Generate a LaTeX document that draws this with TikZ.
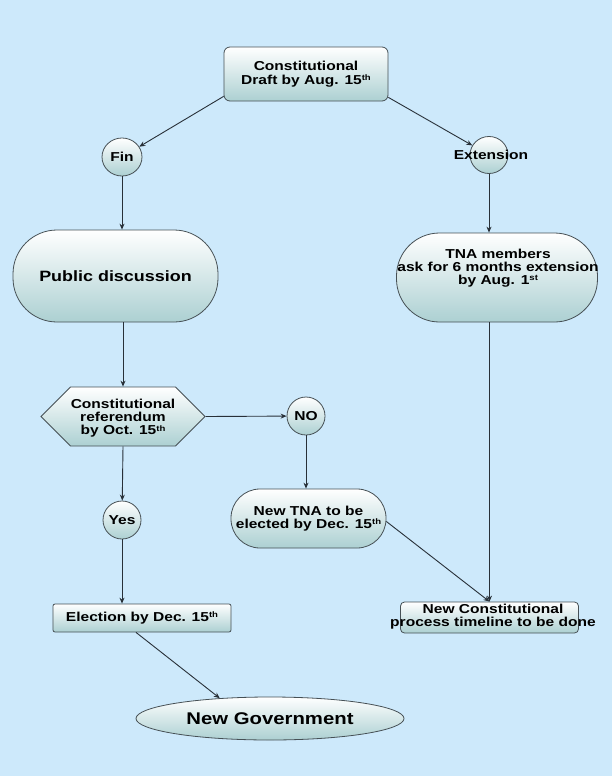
\documentclass[tikz,border=0pt]{standalone}
\usepackage{fontspec}
\usetikzlibrary{shapes.geometric,shapes.misc,shapes.symbols,arrows.meta,calc}
\newfontfamily\lab{Liberation Sans Bold}[FakeStretch=1.2]
\definecolor{bgc}{RGB}{205,233,251}
\definecolor{topc}{RGB}{172,208,210}
\definecolor{edgec}{RGB}{70,80,85}
\definecolor{linec}{RGB}{40,48,56}
\newcommand{\sups}[1]{\raisebox{3.8bp}{\fontsize{8}{8}\selectfont #1}}
\tikzset{
  box/.style={draw=edgec, line width=0.8bp, top color=white, bottom color=topc,
    inner sep=0pt, align=center, text=black, font=\lab\fontsize{13}{13}\selectfont},
  lbl/.style={inner sep=0pt, align=center, text=black, font=\lab\fontsize{13}{13}\selectfont},
  arr/.style={draw=linec, line width=0.9bp, -{Stealth[length=6bp,width=5bp]}},
}
\begin{document}
\begin{tikzpicture}[x=1bp,y=-1bp]
\useasboundingbox (0,0) rectangle (612,776);
\fill[bgc] (0,0) rectangle (612,776);

\node[box, rounded corners=6bp, minimum width=164bp, minimum height=54bp] (draft) at (306,74)
  {Constitutional\\[1bp]Draft by Aug. 15\sups{th}};
\node[box, ellipse, minimum width=40bp, minimum height=38bp] (fin) at (122,157) {Fin};
\node[box, ellipse, minimum width=38bp, minimum height=37bp] (ext) at (489,155) {};
\node[lbl] (extt) at (491,155) {Extension};

\node[box, rounded corners=44bp, minimum width=205bp, minimum height=92bp,
  font=\lab\fontsize{15}{15}\selectfont] (pd) at (115.5,276) {Public discussion};
\node[box, rounded corners=43bp, minimum width=201bp, minimum height=89bp] (tna) at (497,277.5) {};
\node[lbl] (tnat) at (498,268.5) {TNA members\\ask for 6 months extension\\by Aug. 1\sups{st}};

\node[box, signal, signal to=east and west, signal pointer angle=90,
  minimum width=164bp, minimum height=59bp] (hex) at (123,416.5) {};
\node[lbl] (hext) at (123,418.5) {Constitutional\\referendum\\by Oct. 15\sups{th}};
\node[box, ellipse, minimum width=38bp, minimum height=38bp] (no) at (306,416) {NO};
\node[box, ellipse, minimum width=38bp, minimum height=38bp] (yes) at (122,520) {Yes};
\node[box, rounded corners=29bp, minimum width=155bp, minimum height=59bp] (ntna) at (308.5,518.5)
  {New TNA to be\\elected by Dec. 15\sups{th}};

\node[box, rounded corners=2bp, minimum width=178bp, minimum height=28bp] (elec) at (142,618)
  {Election by Dec. 15\sups{th}};
\node[box, rounded corners=4bp, minimum width=178bp, minimum height=31bp] (nc) at (489.5,617.5) {};
\node[lbl] (nct) at (493,617) {New Constitutional\\process timeline to be done};

\node[box, ellipse, minimum width=268bp, minimum height=43bp,
  font=\lab\fontsize{17}{17}\selectfont] (ng) at (270,718.5) {New Government};

\draw[arr] ([yshift=5bp]draft.south west) -- (fin);
\draw[arr] ([yshift=4bp]draft.south east) -- (ext);
\draw[arr] (fin) -- (fin |- pd.north);
\draw[arr] (ext) -- (ext |- tna.north);
\draw[arr] (hex |- pd.south) -- (hex.north);
\draw[arr] (hex.east) -- (no);
\draw[arr] (no) -- (no |- ntna.north);
\draw[arr] (hex.south) -- (yes);
\draw[arr] (yes) -- (yes |- elec.north);
\draw[arr] (nc.north |- tna.south) -- (nc.north);
\draw[arr] ([yshift=-3bp]ntna.east) -- (nc.north);
\draw[arr] ([xshift=-6bp]elec.south) -- (ng.158);
\end{tikzpicture}
\end{document}
